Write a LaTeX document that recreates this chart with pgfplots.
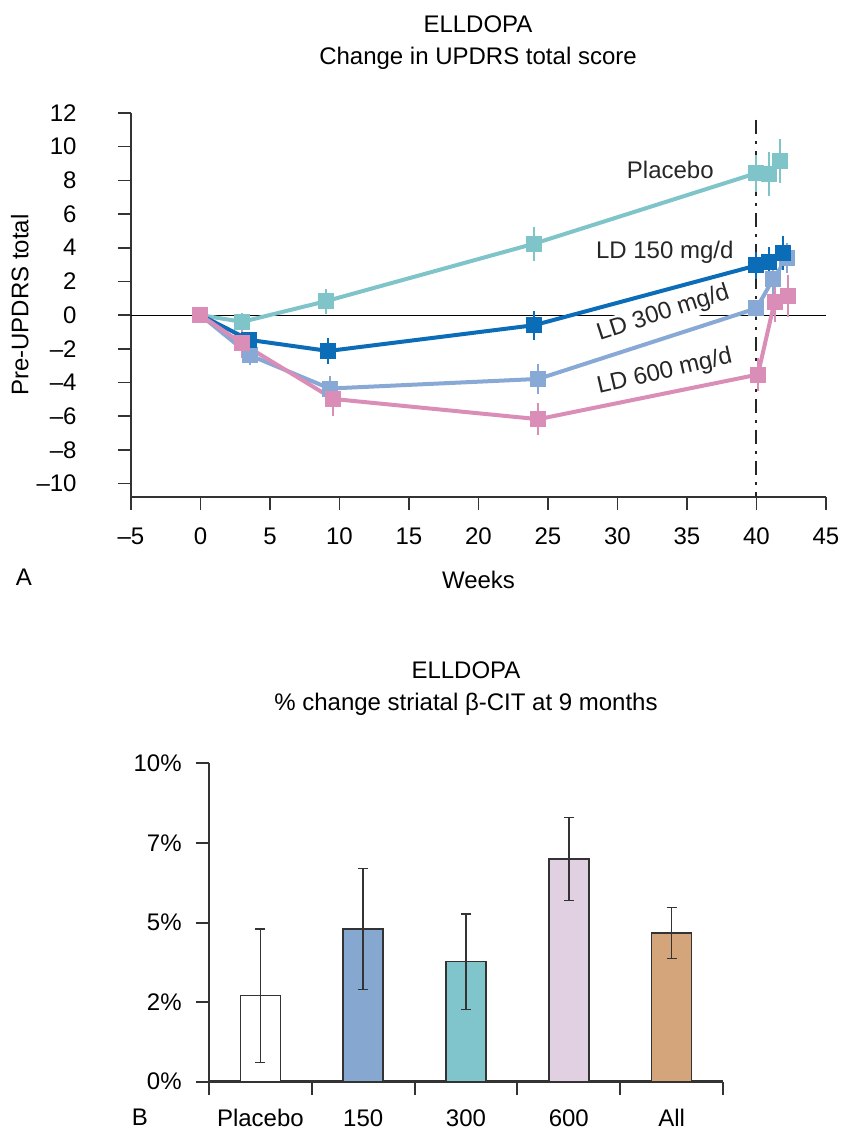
\documentclass[border=0pt]{standalone}
\usepackage{fontspec}
\setmainfont{Liberation Sans}
\usepackage{pgfplots}
\pgfplotsset{compat=1.18}

\definecolor{cplac}{HTML}{7FC4C8}
\definecolor{cld150}{HTML}{0B6DB7}
\definecolor{cld300}{HTML}{88A8D5}
\definecolor{cld600}{HTML}{DA8DB6}
\definecolor{bar150}{HTML}{86A7D0}
\definecolor{bar300}{HTML}{80C5CB}
\definecolor{bar600}{HTML}{E1D0E2}
\definecolor{barall}{HTML}{D4A57B}
\definecolor{axgray}{HTML}{333333}

\pgfplotsset{
  series/.style={#1, line width=2pt, mark=square*, mark size=3pt,
    mark options={solid, fill=#1},
    error bars/.cd, y dir=both, y explicit, error mark=none,
    error bar style={line width=1pt, #1}},
  dbar/.style={ybar, bar width=20pt, bar shift=0pt, fill=#1, draw=axgray,
    line width=0.75pt,
    error bars/.cd, y dir=both, y explicit, error mark=-,
    error bar style={line width=0.75pt, axgray},
    error mark options={rotate=90, line width=0.75pt, axgray, mark size=2.5pt}},
}

\begin{document}
\fontsize{12}{16}\selectfont
\begin{tikzpicture}[x=1pt,y=1pt]
\useasboundingbox (0,0) rectangle (421.5,565.5);

% ---- panel A ----
\node[align=center] at (239,544) {ELLDOPA\\Change in UPDRS total score};

\begin{axis}[
  at={(65.5pt,317pt)}, anchor=south west,
  scale only axis, width=347.5pt, height=192pt,
  xmin=-5, xmax=45, ymin=-10.8, ymax=12,
  axis x line*=bottom, axis y line*=left,
  axis line style={line width=0.8pt, axgray},
  tick style={line width=0.8pt, axgray},
  tick align=outside, major tick length=6.5pt,
  xtick={-5,0,...,45},
  xticklabels={–5,0,5,10,15,20,25,30,35,40,45},
  ytick={-10,-8,...,12},
  yticklabels={–10,–8,–6,–4,–2,0,2,4,6,8,10,12},
  xticklabel style={anchor=base, inner sep=0pt, yshift=-17.2pt},
  yticklabel style={anchor=east, inner sep=0pt, xshift=-20.5pt},
  xlabel={Weeks}, ylabel={Pre-UPDRS total},
  xlabel style={at={(rel axis cs:0.5,-0.237)}, anchor=base},
  ylabel style={at={(rel axis cs:-0.16,0.5)}, anchor=center},
  clip=false,
]
\addplot[black, line width=0.6pt] coordinates {(-5,0) (45,0)};
\addplot[black!85, line width=1pt, dash pattern=on 7pt off 3.5pt on 1.5pt off 3.5pt]
  coordinates {(40,11.6) (40,-10.8)};

\node[text=black!85] at (axis cs:33.8,8.63) {Placebo};
\node[text=black!85] at (axis cs:33.4,3.7) {LD 150 mg/d};
\node[text=black!85, fill=white, inner sep=1pt, rotate=18] at (axis cs:33.3,0.1) {LD 300 mg/d};
\node[text=black!85, rotate=13] at (axis cs:33.4,-3.4) {LD 600 mg/d};

% Placebo
\addplot[series=cplac] coordinates {
  (0,0) +- (0,0)
  (3,-0.4) +- (0,0.55)
  (9,0.82) +- (0,0.75)
  (24,4.24) +- (0,1.0)
  (40,8.43) +- (0,1.1)
  (40.9,8.4) +- (0,1.3)
  (41.7,9.16) +- (0,1.3)
};
% LD 300 mg/d
\addplot[series=cld300] coordinates {
  (0,0) +- (0,0)
  (3.56,-2.39) +- (0,0.55)
  (9.3,-4.36) +- (0,0.75)
  (24.3,-3.79) +- (0,0.9)
  (40,0.4) +- (0,0.5)
  (41.2,2.15) +- (0,1.1)
  (42.2,3.39) +- (0,0.9)
};
% LD 150 mg/d
\addplot[series=cld150] coordinates {
  (0,0) +- (0,0)
  (3.5,-1.47) +- (0,0.45)
  (9.2,-2.13) +- (0,0.75)
  (24,-0.6) +- (0,0.85)
  (40,2.95) +- (0,0.8)
  (40.9,3.15) +- (0,0.9)
  (41.9,3.7) +- (0,1.0)
};
% LD 600 mg/d
\addplot[series=cld600] coordinates {
  (0,0) +- (0,0)
  (2.96,-1.67) +- (0,0.85)
  (9.55,-4.98) +- (0,1.0)
  (24.3,-6.18) +- (0,0.95)
  (40.1,-3.53) +- (0,1.0)
  (41.3,0.8) +- (0,1.2)
  (42.3,1.12) +- (0,1.25)
};
\end{axis}
\node at (12,277) {A};

% ---- panel B ----
\node[align=center] at (233,221) {ELLDOPA\\\% change striatal β-CIT at 9 months};

\begin{axis}[
  at={(104.5pt,24.65pt)}, anchor=south west,
  scale only axis, width=257pt, height=159.2pt,
  xmin=0, xmax=5, ymin=0, ymax=10,
  axis x line*=bottom, axis y line*=left,
  axis line style={line width=1.4pt, axgray},
  tick style={line width=1pt, axgray},
  tick align=outside, major tick length=6.5pt, minor tick length=6.5pt,
  ytick={0,2.5,5,7.5,10},
  yticklabels={0\%,2\%,5\%,7\%,10\%},
  xtick={0.5,1.5,2.5,3.5,4.5},
  xticklabels={Placebo,150,300,600,All},
  minor xtick={0,1,2,3,4,5},
  major x tick style={draw=none},
  xticklabel style={anchor=base, inner sep=0pt, yshift=-15.8pt},
  yticklabel style={anchor=east, inner sep=0pt, xshift=-7pt},
  clip=false,
]
\addplot[dbar=white]  coordinates {(0.5,2.7) +- (0,2.1)};
\addplot[dbar=bar150] coordinates {(1.5,4.79) +- (0,1.9)};
\addplot[dbar=bar300] coordinates {(2.5,3.77) +- (0,1.5)};
\addplot[dbar=bar600] coordinates {(3.5,6.99) +- (0,1.3)};
\addplot[dbar=barall] coordinates {(4.5,4.67) +- (0,0.8)};
\end{axis}
\node at (70,6.75) {B};
\end{tikzpicture}
\end{document}
